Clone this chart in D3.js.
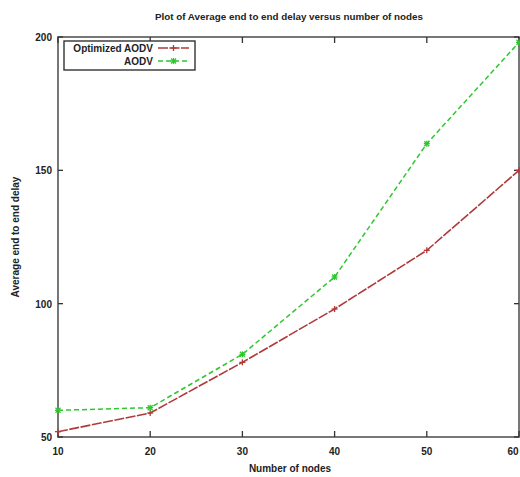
<!DOCTYPE html>
<html><head><meta charset="utf-8">
<script src="https://cdn.jsdelivr.net/npm/d3@7"></script>
<style>body{margin:0;background:#fff}svg{display:block}text{font-family:"Liberation Sans",Arial,sans-serif;fill:#222}</style>
</head><body><svg id="c" width="520" height="477"></svg>
<script>
const nodes = [10, 20, 30, 40, 50, 60];
const optimizedAODV = [52, 59, 78, 98, 120, 150];
const aodv = [60, 61, 81, 110, 160, 198];
const xTicks = [10, 20, 30, 40, 50, 60];
const yTicks = [50, 100, 150, 200];

const svg = d3.select("#c");
const L = 58, R = 519, T = 37, B = 437;
const x = d3.scaleLinear().domain([10, 60]).range([L, R]);
const y = d3.scaleLinear().domain([50, 200]).range([B, T]);

svg.append("text").attr("x", 289).attr("y", 20).attr("text-anchor", "middle")
  .attr("font-size", 9.5).attr("font-weight", "bold").attr("textLength", 268)
  .attr("lengthAdjust", "spacingAndGlyphs")
  .text("Plot of Average end to end delay versus number of nodes");

// frame
svg.append("rect").attr("x", L).attr("y", T).attr("width", R - L).attr("height", B - T)
  .attr("fill", "none").attr("stroke", "#555").attr("stroke-width", 1.6);

// ticks
const g = svg.append("g");
xTicks.forEach(t => {
  g.append("line").attr("x1", x(t)).attr("x2", x(t)).attr("y1", B).attr("y2", B - 6).attr("stroke", "#333").attr("stroke-width", 1.3);
  g.append("line").attr("x1", x(t)).attr("x2", x(t)).attr("y1", T).attr("y2", T + 6).attr("stroke", "#333").attr("stroke-width", 1.3);
  g.append("text").attr("x", Math.min(x(t), R - 6)).attr("y", B + 18).attr("text-anchor", "middle").attr("font-size", 10).attr("font-weight", "bold").text(t);
});
yTicks.forEach(t => {
  g.append("line").attr("x1", L).attr("x2", L + 5).attr("y1", y(t)).attr("y2", y(t)).attr("stroke", "#333").attr("stroke-width", 1.3);
  g.append("line").attr("x1", R).attr("x2", R - 5).attr("y1", y(t)).attr("y2", y(t)).attr("stroke", "#333").attr("stroke-width", 1.3);
  g.append("text").attr("x", L - 6).attr("y", y(t) + 4).attr("text-anchor", "end").attr("font-size", 10).attr("font-weight", "bold").text(t);
});

svg.append("text").attr("x", 290).attr("y", 472).attr("text-anchor", "middle")
  .attr("font-size", 10).attr("font-weight", "bold").text("Number of nodes");
svg.append("text").attr("transform", "translate(19,237) rotate(-90)").attr("text-anchor", "middle")
  .attr("font-size", 10).attr("font-weight", "bold").text("Average end to end delay");

const line = d3.line().x((d, i) => x(nodes[i])).y(d => y(d));
const redC = "#b03a3a", greenC = "#2ec72e";

svg.append("path").datum(optimizedAODV).attr("d", line).attr("fill", "none")
  .attr("stroke", redC).attr("stroke-width", 1.6).attr("stroke-dasharray", "10,1.5");
svg.append("path").datum(aodv).attr("d", line).attr("fill", "none")
  .attr("stroke", greenC).attr("stroke-width", 1.5).attr("stroke-dasharray", "5,3");

function plus(sel, cx, cy, c) {
  sel.append("line").attr("x1", cx - 3).attr("x2", cx + 3).attr("y1", cy).attr("y2", cy).attr("stroke", c).attr("stroke-width", 1.3);
  sel.append("line").attr("x1", cx).attr("x2", cx).attr("y1", cy - 3).attr("y2", cy + 3).attr("stroke", c).attr("stroke-width", 1.3);
}
function star(sel, cx, cy, c) {
  plus(sel, cx, cy, c);
  sel.append("line").attr("x1", cx - 2.5).attr("x2", cx + 2.5).attr("y1", cy - 2.5).attr("y2", cy + 2.5).attr("stroke", c).attr("stroke-width", 1.3);
  sel.append("line").attr("x1", cx - 2.5).attr("x2", cx + 2.5).attr("y1", cy + 2.5).attr("y2", cy - 2.5).attr("stroke", c).attr("stroke-width", 1.3);
}
const mk = svg.append("g");
optimizedAODV.forEach((v, i) => plus(mk, x(nodes[i]), y(v), redC));
aodv.forEach((v, i) => star(mk, x(nodes[i]), y(v), greenC));

// legend
const lg = svg.append("g");
lg.append("rect").attr("x", 64).attr("y", 41).attr("width", 131).attr("height", 29)
  .attr("fill", "#fff").attr("stroke", "#333").attr("stroke-width", 1.4);
lg.append("text").attr("x", 153).attr("y", 52).attr("text-anchor", "end").attr("font-size", 10).attr("font-weight", "bold").text("Optimized AODV");
lg.append("text").attr("x", 153).attr("y", 65).attr("text-anchor", "end").attr("font-size", 10).attr("font-weight", "bold").text("AODV");
lg.append("line").attr("x1", 158).attr("x2", 189).attr("y1", 48).attr("y2", 48).attr("stroke", redC).attr("stroke-width", 1.4).attr("stroke-dasharray", "10,1.5");
plus(lg, 173.5, 48, redC);
lg.append("line").attr("x1", 158).attr("x2", 189).attr("y1", 61).attr("y2", 61).attr("stroke", greenC).attr("stroke-width", 1.4).attr("stroke-dasharray", "5,3");
star(lg, 173.5, 61, greenC);
</script></body></html>
